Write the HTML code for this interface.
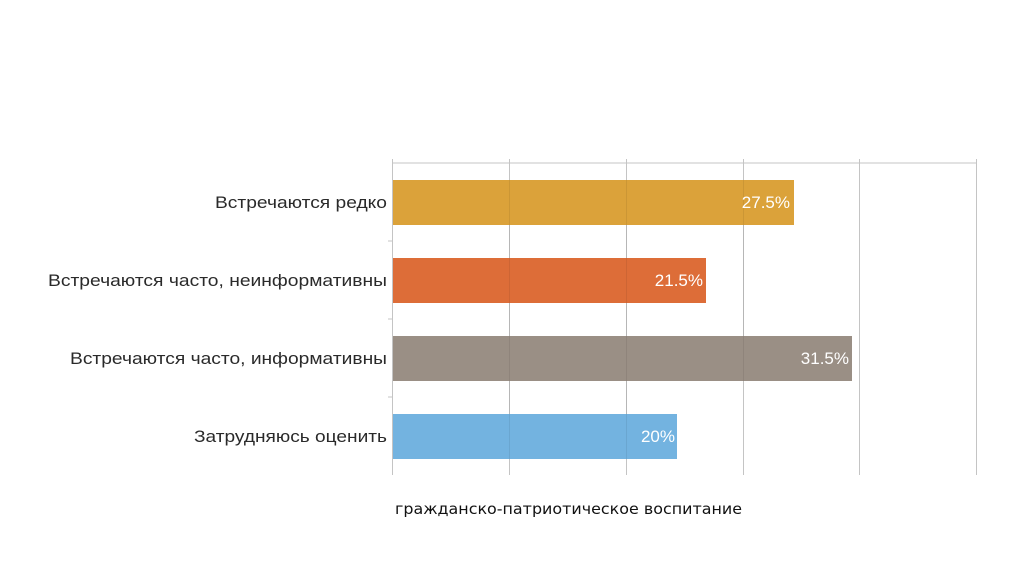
<!DOCTYPE html>
<html><head><meta charset="utf-8"><style>
html,body{margin:0;padding:0;background:#fff;width:1024px;height:576px;overflow:hidden}
</style></head><body>
<svg width="1024" height="576" xmlns="http://www.w3.org/2000/svg">
<g fill="none" stroke="#c4c4c4" stroke-width="1">
<line x1="392" y1="163" x2="976" y2="163"/>
<line x1="392.5" y1="159" x2="392.5" y2="475"/>
<line x1="509.5" y1="159" x2="509.5" y2="475"/>
<line x1="626.5" y1="159" x2="626.5" y2="475"/>
<line x1="743.5" y1="159" x2="743.5" y2="475"/>
<line x1="859.5" y1="159" x2="859.5" y2="475"/>
<line x1="976.5" y1="159" x2="976.5" y2="475"/>
<line x1="388" y1="241" x2="392" y2="241"/>
<line x1="388" y1="319" x2="392" y2="319"/>
<line x1="388" y1="397" x2="392" y2="397"/>
</g>
<rect x="393" y="180" width="401" height="45" fill="#dba23a"/>
<rect x="393" y="258" width="313" height="45" fill="#dd6d38"/>
<rect x="393" y="336" width="459" height="45" fill="#9a8f85"/>
<rect x="393" y="414" width="284" height="45" fill="#73b3e0"/>
<g stroke="#000" stroke-opacity="0.07">
<line x1="509.5" y1="180" x2="509.5" y2="459"/>
<line x1="626.5" y1="180" x2="626.5" y2="459"/>
<line x1="743.5" y1="180" x2="743.5" y2="381"/>
</g>
<g font-family="Liberation Sans, sans-serif" font-size="17" fill="#fff" text-anchor="end">
<text x="790" y="208">27.5%</text>
<text x="703" y="286">21.5%</text>
<text x="849" y="364">31.5%</text>
<text x="675" y="442">20%</text>
</g>
<g font-family="Liberation Sans, sans-serif" font-size="17" fill="#2a2a2a">
<text x="215" y="208" textLength="172" lengthAdjust="spacingAndGlyphs">Встречаются редко</text>
<text x="48" y="286" textLength="339" lengthAdjust="spacingAndGlyphs">Встречаются часто, неинформативны</text>
<text x="70" y="364" textLength="317" lengthAdjust="spacingAndGlyphs">Встречаются часто, информативны</text>
<text x="194" y="442" textLength="193" lengthAdjust="spacingAndGlyphs">Затрудняюсь оценить</text>
</g>
<text x="395" y="514" font-family="DejaVu Sans, sans-serif" font-size="15" fill="#111" textLength="347" lengthAdjust="spacingAndGlyphs">гражданско-патриотическое воспитание</text>
</svg>
</body></html>
